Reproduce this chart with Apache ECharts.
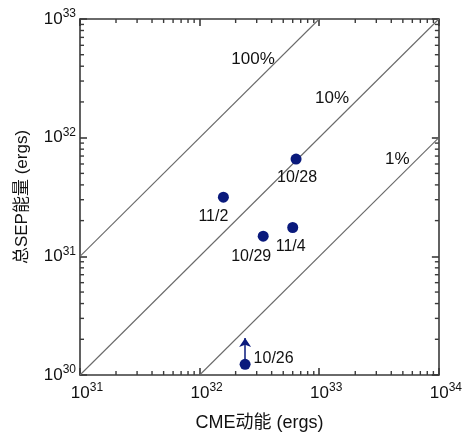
<!DOCTYPE html>
<html>
<head>
<meta charset="utf-8">
<script src="https://cdn.jsdelivr.net/npm/echarts@6/dist/echarts.min.js"></script>
<style>
  html, body { margin: 0; padding: 0; background: #ffffff; }
  #chart { width: 465px; height: 437px; }
</style>
</head>
<body>
<div id="chart"></div>
<script>
// Events: CME kinetic energy vs. total SEP energy (ergs)
const events     = ['10/28', '11/2', '10/29', '11/4', '10/26'];
const cmeEnergy  = [6.4e32, 1.58e32, 3.4e32, 6.0e32, 2.4e32];
const sepEnergy  = [6.6e31, 3.15e31, 1.48e31, 1.75e31, 1.23e30];

// 10/26 is a lower limit: arrow drawn from the point up to this value
const lowerLimitEvent = '10/26';
const lowerLimitTip   = 2.05e30;

// Constant-efficiency reference lines (SEP energy / CME energy)
const efficiencyNames = ['100%', '10%', '1%'];
const efficiencyLines = [
  [[1e31, 1e31], [1e33, 1e33]],
  [[1e31, 1e30], [1e34, 1e33]],
  [[1e32, 1e30], [1e34, 1e32]]
];

// Axis decades (exponents of ten)
const xDecades = [31, 32, 33, 34];
const yDecades = [30, 31, 32, 33];

const FONT = '"Liberation Sans", Arial, "Noto Sans CJK SC", sans-serif';
const AXIS_COLOR = '#3a3a3a';
const DOT_COLOR = '#0a1a7c';
const TEXT_COLOR = '#111111';

// Minor tick values 2..9 x 10^n inside each decade
function minorTicks(decades) {
  const out = [];
  for (let i = 0; i < decades.length - 1; i++) {
    for (let m = 2; m <= 9; m++) out.push(m * Math.pow(10, decades[i]));
  }
  return out;
}
const xMinor = minorTicks(xDecades);
const yMinor = minorTicks(yDecades);

const powRich = {
  base: { fontSize: 17, fontFamily: FONT, color: TEXT_COLOR, lineHeight: 22 },
  sup:  { fontSize: 12, fontFamily: FONT, color: TEXT_COLOR, verticalAlign: 'top', lineHeight: 14 },
  pad:  { width: 14 }
};
function powLabel(v, padLeft) {
  const e = Math.round(Math.log10(v));
  return (padLeft ? '{pad|}' : '') + '{base|10}{sup|' + e + '}';
}

const axisLineStyle = { color: AXIS_COLOR, width: 1.6 };

function logAxis(extra) {
  return Object.assign({
    type: 'log', logBase: 10,
    splitLine: { show: false },
    axisLine: { show: true, onZero: false, lineStyle: axisLineStyle },
    axisTick: { show: true, inside: true, length: 7, lineStyle: axisLineStyle },
    axisLabel: { show: false },
    axisPointer: { show: false }
  }, extra);
}

// Label placement for each event marker
const labelPlacement = {
  '10/28': { position: 'bottom', distance: 5, offset: [1, 0] },
  '11/2':  { position: 'bottom', distance: 6, offset: [-10, 0] },
  '10/29': { position: 'bottom', distance: 7, offset: [-12, 0] },
  '11/4':  { position: 'bottom', distance: 6, offset: [-2, 0] },
  '10/26': { position: 'right', distance: 3, offset: [0, -6] }
};

// Anchor points (data units) for the efficiency line captions
const captionAnchors = [[2.8e32, 4.6e32], [1.28e33, 2.13e32], [4.5e33, 6.6e31]];

const xMin = Math.pow(10, xDecades[0]), xMax = Math.pow(10, xDecades[xDecades.length - 1]);
const yMin = Math.pow(10, yDecades[0]), yMax = Math.pow(10, yDecades[yDecades.length - 1]);

const limitIdx = events.indexOf(lowerLimitEvent);

// Minor ticks on all four sides of the frame, drawn through the axis scales
const minorTickData = xMinor.map(v => [v, yMin, 0]).concat(yMinor.map(v => [xMin, v, 1]));
function renderMinorTick(params, api) {
  const cs = params.coordSys;
  const len = 4;
  const isX = api.value(2) === 0;
  const p = api.coord([api.value(0), api.value(1)]);
  const style = { stroke: AXIS_COLOR, lineWidth: 1.4 };
  if (isX) {
    return { type: 'group', children: [
      { type: 'line', shape: { x1: p[0], y1: cs.y + cs.height, x2: p[0], y2: cs.y + cs.height - len }, style },
      { type: 'line', shape: { x1: p[0], y1: cs.y, x2: p[0], y2: cs.y + len }, style }
    ]};
  }
  return { type: 'group', children: [
    { type: 'line', shape: { x1: cs.x, y1: p[1], x2: cs.x + len, y2: p[1] }, style },
    { type: 'line', shape: { x1: cs.x + cs.width, y1: p[1], x2: cs.x + cs.width - len, y2: p[1] }, style }
  ]};
}

const option = {
  backgroundColor: '#ffffff',
  animation: false,
  textStyle: { fontFamily: FONT },
  grid: { left: 80, right: 22, top: 19, bottom: 57, show: false },
  xAxis: [
    logAxis({
      position: 'bottom', min: xMin, max: xMax,
      axisLabel: { show: true, margin: 7, formatter: v => powLabel(v, true), rich: powRich },
      name: 'CME动能 (ergs)', nameLocation: 'middle', nameGap: 39,
      nameTextStyle: { fontSize: 18, color: TEXT_COLOR, fontFamily: FONT }
    }),
    logAxis({ position: 'top', min: xMin, max: xMax })
  ],
  yAxis: [
    logAxis({
      position: 'left', min: yMin, max: yMax,
      axisLabel: { show: true, margin: 4, formatter: v => powLabel(v, false), rich: powRich },
      name: '总SEP能量 (ergs)', nameLocation: 'middle', nameGap: 49, nameRotate: 90,
      nameTextStyle: { fontSize: 17, color: TEXT_COLOR, fontFamily: FONT }
    }),
    logAxis({ position: 'right', min: yMin, max: yMax })
  ],
  series: [
    ...efficiencyLines.map((pts, i) => ({
      type: 'line', name: efficiencyNames[i],
      xAxisIndex: 0, yAxisIndex: 0,
      data: pts, symbol: 'none', silent: true, z: 1,
      lineStyle: { color: '#6a6a6a', width: 1.1 }
    })),
    {
      type: 'custom', name: 'minorTicks',
      xAxisIndex: 0, yAxisIndex: 0, silent: true, z: 3,
      clip: false,
      data: minorTickData,
      renderItem: renderMinorTick
    },
    {
      type: 'scatter', name: 'captions',
      xAxisIndex: 0, yAxisIndex: 0, silent: true, z: 2,
      symbolSize: 0,
      itemStyle: { opacity: 1 },
      data: captionAnchors.map((p, i) => ({ value: p, name: efficiencyNames[i] })),
      label: {
        show: true, position: 'inside', formatter: p => p.name,
        fontSize: 17, color: TEXT_COLOR, fontFamily: FONT, opacity: 1
      }
    },
    {
      type: 'scatter', name: 'events',
      xAxisIndex: 0, yAxisIndex: 0, z: 5,
      symbol: 'circle', symbolSize: 11,
      itemStyle: { color: DOT_COLOR, opacity: 1 },
      data: events.map((ev, i) => ({
        name: ev,
        value: [cmeEnergy[i], sepEnergy[i]],
        label: Object.assign({
          show: true, formatter: ev,
          fontSize: 16, color: TEXT_COLOR, fontFamily: FONT, opacity: 1
        }, labelPlacement[ev])
      })),
      markLine: {
        silent: true,
        symbol: ['none', 'arrow'],
        symbolSize: 9,
        label: { show: false },
        lineStyle: { color: DOT_COLOR, width: 1.5, type: 'solid', opacity: 1 },
        data: [[
          { coord: [cmeEnergy[limitIdx], sepEnergy[limitIdx]] },
          { coord: [cmeEnergy[limitIdx], lowerLimitTip] }
        ]]
      }
    }
  ]
};

const chart = echarts.init(document.getElementById('chart'), null, { renderer: 'canvas' });
chart.setOption(option);
</script>
</body>
</html>
